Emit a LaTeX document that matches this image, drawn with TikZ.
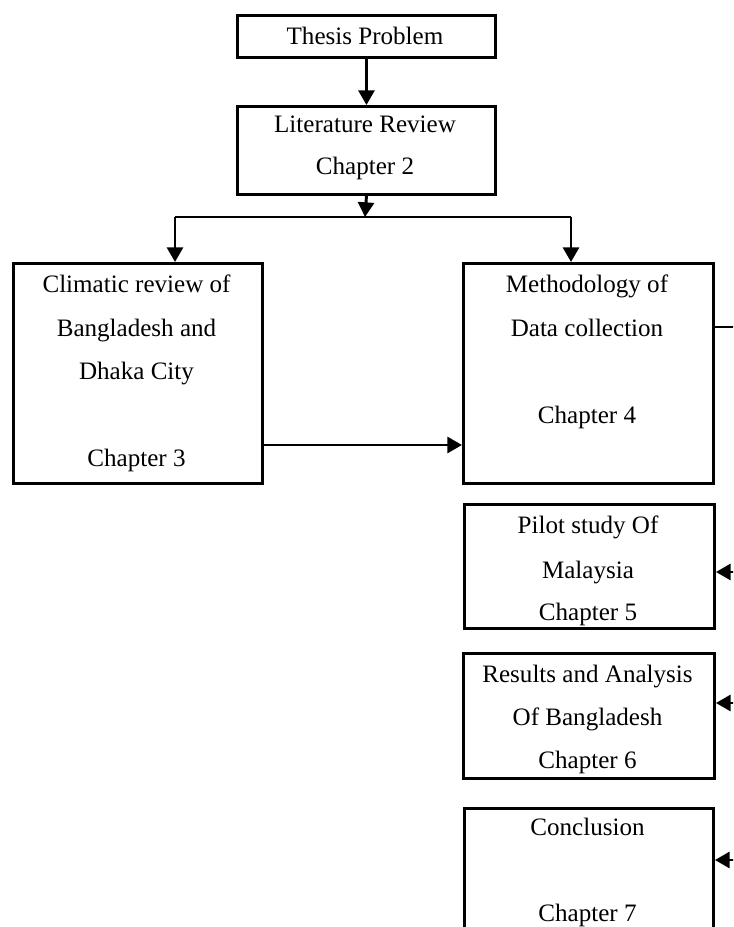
\documentclass[tikz,border=0pt]{standalone}
\usepackage{fontspec}
\setmainfont{Liberation Serif}
\usetikzlibrary{arrows.meta}
\tikzset{
  box/.style={draw, line width=2.2pt, rectangle, inner sep=0pt, anchor=north west},
  txt/.style={anchor=base, inner sep=0pt, font=\fontsize{18.8}{22}\selectfont},
  arr/.style={line width=2.2pt, -{Triangle[length=11pt,width=12pt]}},
  con/.style={line width=2.2pt}
}
\begin{document}
\begin{tikzpicture}[x=0.75pt,y=-0.75pt]
\useasboundingbox (0,0) rectangle (733,927);
\clip (0,0) rectangle (733,927);
% boxes
\node[box, minimum width=193.5pt, minimum height=31.5pt] (thesis) at (236,14) {};
\node[box, minimum width=193.5pt, minimum height=66pt] (lit) at (236,105) {};
\node[box, minimum width=186.75pt, minimum height=165pt] (clim) at (12,262) {};
\node[box, minimum width=187.5pt, minimum height=165pt] (meth) at (462,262) {};
\node[box, minimum width=187.5pt, minimum height=93pt] (pilot) at (463,503) {};
\node[box, minimum width=188.25pt, minimum height=93.75pt] (res) at (462,652) {};
\node[box, minimum width=186.75pt, minimum height=110pt] (conc) at (463,807) {};
% texts
\node[txt] (t1) at (365,45) {Thesis Problem};
\node[txt] (t2a) at (365,133) {Literature Review};
\node[txt] (t2b) at (365,175) {Chapter 2};
\node[txt] (t3a) at (136.5,292) {Climatic review of};
\node[txt] (t3b) at (136.5,336) {Bangladesh and};
\node[txt] (t3c) at (136.5,379) {Dhaka City};
\node[txt] (t3d) at (136.5,466) {Chapter 3};
\node[txt] (t4a) at (587,292) {Methodology of};
\node[txt] (t4b) at (587,336) {Data collection};
\node[txt] (t4c) at (587,423) {Chapter 4};
\node[txt] (t5a) at (588,533) {Pilot study Of};
\node[txt] (t5b) at (588,578) {Malaysia};
\node[txt] (t5c) at (588,620) {Chapter 5};
\node[txt] (t6a) at (587.5,682) {Results and Analysis};
\node[txt] (t6b) at (587.5,725) {Of Bangladesh};
\node[txt] (t6c) at (587.5,768) {Chapter 6};
\node[txt] (t7a) at (587.5,835) {Conclusion};
\node[txt] (t7b) at (587.5,921) {Chapter 7};
% connectors
\coordinate (busc) at (365,217);
\coordinate (busl) at (175,217);
\coordinate (busr) at (571,217);
\coordinate (row3) at (0,445);
\coordinate (rb1) at (745,327);
\coordinate (rb2) at (745,572);
\coordinate (rb3) at (745,703);
\coordinate (rb4) at (745,860);
\draw[arr] (thesis.south) -- (lit.north);
\draw[arr] (lit.south) -- (busc);
\draw[con] (busl) -- (busr);
\draw[arr] (busl) -- (busl |- clim.north);
\draw[arr] (busr) -- (busr |- meth.north);
\draw[arr] (clim.east |- row3) -- (meth.west |- row3);
\draw[con] (meth.east |- rb1) -- (rb1) -- (rb4);
\draw[arr] (rb2) -- (rb2 -| pilot.east);
\draw[arr] (rb3) -- (rb3 -| res.east);
\draw[arr] (rb4) -- (rb4 -| conc.east);
\end{tikzpicture}
\end{document}
